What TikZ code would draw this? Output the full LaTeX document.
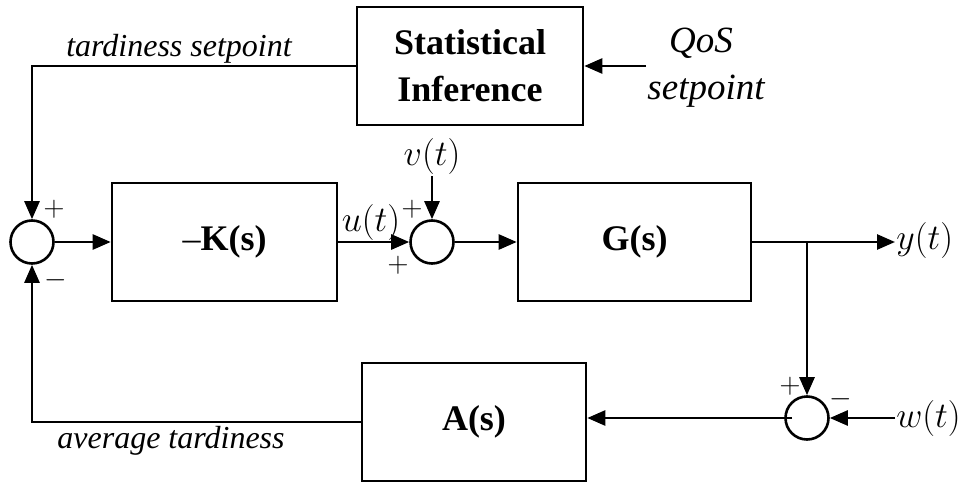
\RequirePackage{fix-cm}
\documentclass[tikz,border=0pt]{standalone}
\usepackage{fontspec}
\setmainfont{Liberation Serif}
\usetikzlibrary{arrows.meta}
\begin{document}
\begin{tikzpicture}[x=1pt,y=-1pt,
  line width=2.6pt,
  block/.style={draw, line width=2.6pt, inner sep=0pt, align=center,
    font=\fontsize{36}{47}\selectfont\bfseries},
  sumnode/.style={draw, circle, line width=2.6pt, minimum size=43pt, inner sep=0pt},
  arr/.style={-{Triangle[length=18pt,width=15pt]}},
  lbl/.style={inner sep=0pt, anchor=base, font=\fontsize{32}{36}\selectfont\itshape},
  biglbl/.style={lbl, font=\fontsize{37}{40}\selectfont\itshape},
  sig/.style={inner sep=0pt, font=\fontsize{36}{40}\selectfont},
  sgn/.style={inner sep=0pt, font=\fontsize{29}{32}\selectfont}]
\useasboundingbox (0,0) rectangle (971,484);

% blocks
\node[block, minimum width=226pt, minimum height=118pt] (stat) at (470,66) {Statistical\\Inference};
\node[block, minimum width=225pt, minimum height=118pt] (K) at (224.5,242) {{\mdseries –}K(s)};
\node[block, minimum width=233pt, minimum height=118pt] (G) at (634.5,242) {G(s)};
\node[block, minimum width=224pt, minimum height=118pt] (A) at (474,422) {A(s)};

% summing junctions
\node[sumnode] (s1) at (32,242) {};
\node[sumnode] (s2) at (432,242) {};
\node[sumnode] (s3) at (807,418) {};

% signals
\node[sig] (v) at (432,157) {$v(t)$};
\node[sig] (u) at (371,222) {$u(t)$};
\node[sig, anchor=west] (y) at (895,240) {$y(t)$};
\node[sig, anchor=west] (w) at (895,418) {$w(t)$};
\coordinate (qin) at (646,66);
\coordinate (br) at (807,242);

% text labels
\node[lbl] (tset) at (179,57) {tardiness setpoint};
\node[biglbl] (qos) at (701,53) {QoS};
\node[biglbl] (qset) at (706,100) {setpoint};
\node[lbl] (avg) at (171,448) {average tardiness};

% signs at the junctions
\node[sgn] (p1) at (54,209) {$+$};
\node[sgn] (m1) at (56,280) {$-$};
\node[sgn] (p2) at (412,209) {$+$};
\node[sgn] (p3) at (398,265) {$+$};
\node[sgn] (p4) at (790,386) {$+$};
\node[sgn] (m4) at (841,399) {$-$};

% connectors
\draw[arr] (stat.west) -| (s1.north);
\draw[arr] (qin) -- (stat.east);
\draw[arr] (s1.east) -- (K.west);
\draw[arr] (K.east) -- (s2.west);
\draw[arr] (v.south) -- (s2.north);
\draw[arr] (s2.east) -- (G.west);
\draw[arr] (G.east) -- (G.east -| y.west);
\draw[arr] (br) -- (s3.north);
\draw[arr] (w.west) -- (s3.east);
\draw[arr] ([xshift=-15pt]s3.center) -- (A.east |- s3.center);
\draw[arr] (A.west) -| (s1.south);
\end{tikzpicture}
\end{document}
